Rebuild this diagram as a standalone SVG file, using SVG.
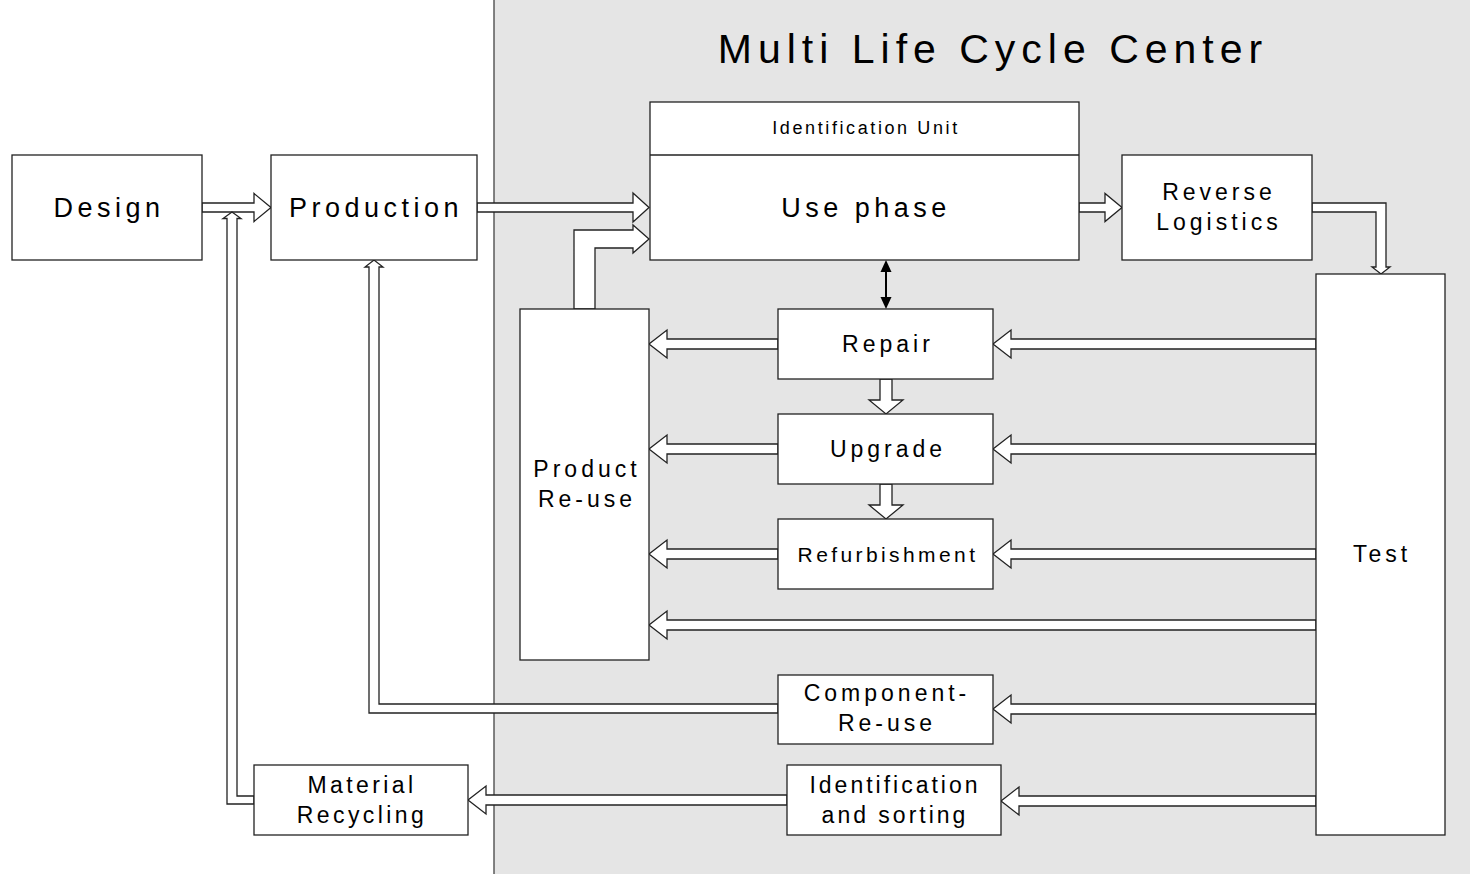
<svg xmlns="http://www.w3.org/2000/svg" width="1470" height="874" viewBox="0 0 1470 874">
<style>
.bg{fill:#e5e5e5;stroke:#444;stroke-width:1.3}
.box{fill:#fff;stroke:#222;stroke-width:1.3}
.arr{fill:#fff;stroke:#222;stroke-width:1.3;stroke-linejoin:miter}
text{font-family:"Liberation Sans",Arial,sans-serif;fill:#000;text-anchor:middle}
.t27{font-size:27px;letter-spacing:4.5px}
.t23{font-size:23px;letter-spacing:4px}
.t21{font-size:21px;letter-spacing:3.4px}
.t18{font-size:18px;letter-spacing:2.6px}
.t41{font-size:41px;letter-spacing:6px}
</style>
<rect width="1470" height="874" fill="#fff"/>
<rect class="bg" x="494" y="-2" width="978" height="878"/>
<text class="t41" x="993" y="63">Multi Life Cycle Center</text>

<g id="connectors">
<polygon class="arr" points="202,203 254,203 254,193.5 271,207.5 254,221.5 254,212 202,212"/>
<polygon class="arr" points="477,203 633,203 633,193 649,207.5 633,222 633,212 477,212"/>
<polygon class="arr" points="574,309 574,230 633,230 633,225 649,239 633,253 633,248 595,248 595,309"/>
<polygon class="arr" points="1079,203 1105,203 1105,193.5 1122,207.5 1105,221.5 1105,212 1079,212"/>
<polygon class="arr" points="1312,203 1386,203 1386,267 1390,267 1381,274 1372,267 1376,267 1376,212 1312,212"/>
<polygon class="arr" points="254,804 227,804 227,218.5 223,218.5 232,212 241,218.5 237,218.5 237,796 254,796"/>
<polygon class="arr" points="778,713 369,713 369,267 365,267 374,260 383,267 379,267 379,704 778,704"/>
<polygon class="arr" points="1316,339 1011,339 1011,330 993,344 1011,358 1011,349 1316,349"/>
<polygon class="arr" points="1316,444 1011,444 1011,435 993,449 1011,463 1011,454 1316,454"/>
<polygon class="arr" points="1316,549 1011,549 1011,540 993,554 1011,568 1011,559 1316,559"/>
<polygon class="arr" points="1316,620 667,620 667,611 649,625 667,639 667,630 1316,630"/>
<polygon class="arr" points="1316,704 1011,704 1011,695 993,709 1011,723 1011,714 1316,714"/>
<polygon class="arr" points="1316,796 1019,796 1019,787 1001,801 1019,815 1019,806 1316,806"/>
<polygon class="arr" points="787,795 486,795 486,786 468,800 486,814 486,805 787,805"/>
<polygon class="arr" points="778,339 667,339 667,330 649,344 667,358 667,349 778,349"/>
<polygon class="arr" points="778,444 667,444 667,435 649,449 667,463 667,454 778,454"/>
<polygon class="arr" points="778,549 667,549 667,540 649,554 667,568 667,559 778,559"/>
<polygon class="arr" points="880,379 892,379 892,400 903,400 886,414 869,400 880,400"/>
<polygon class="arr" points="880,484 892,484 892,505 903,505 886,519 869,505 880,505"/>
<line x1="886" y1="270" x2="886" y2="299" stroke="#000" stroke-width="2"/>
<polygon points="886,260 880.5,272 891.5,272" fill="#000"/>
<polygon points="886,309 880.5,297 891.5,297" fill="#000"/>
</g>

<g id="design"><rect class="box" x="12" y="155" width="190" height="105"/><text class="t27" x="109" y="217">Design</text></g>
<g id="production"><rect class="box" x="271" y="155" width="206" height="105"/><text class="t27" x="376" y="217">Production</text></g>
<g id="use-phase"><rect class="box" x="650" y="102" width="429" height="158"/><line x1="650" y1="155" x2="1079" y2="155" stroke="#222" stroke-width="1.3"/><text class="t18" x="866" y="134">Identification Unit</text><text class="t27" x="866" y="217">Use phase</text></g>
<g id="reverse-logistics"><rect class="box" x="1122" y="155" width="190" height="105"/><text class="t23" x="1219" y="200">Reverse</text><text class="t23" x="1219" y="230">Logistics</text></g>
<g id="test"><rect class="box" x="1316" y="274" width="129" height="561"/><text class="t23" x="1382" y="562">Test</text></g>
<g id="product-reuse"><rect class="box" x="520" y="309" width="129" height="351"/><text class="t23" x="587" y="477">Product</text><text class="t23" x="587" y="507">Re-use</text></g>
<g id="repair"><rect class="box" x="778" y="309" width="215" height="70"/><text class="t23" x="888" y="352">Repair</text></g>
<g id="upgrade"><rect class="box" x="778" y="414" width="215" height="70"/><text class="t23" x="888" y="457">Upgrade</text></g>
<g id="refurbishment"><rect class="box" x="778" y="519" width="215" height="70"/><text class="t21" x="888" y="562">Refurbishment</text></g>
<g id="component-reuse"><rect class="box" x="778" y="675" width="215" height="69"/><text class="t23" x="887" y="701">Component-</text><text class="t23" x="887" y="731">Re-use</text></g>
<g id="identification-sorting"><rect class="box" x="787" y="765" width="214" height="70"/><text class="t23" style="letter-spacing:3px" x="895" y="793">Identification</text><text class="t23" style="letter-spacing:3px" x="895" y="823">and sorting</text></g>
<g id="material-recycling"><rect class="box" x="254" y="765" width="214" height="70"/><text class="t23" style="letter-spacing:3.4px" x="362" y="793">Material</text><text class="t23" style="letter-spacing:3.4px" x="362" y="823">Recycling</text></g>
</svg>
